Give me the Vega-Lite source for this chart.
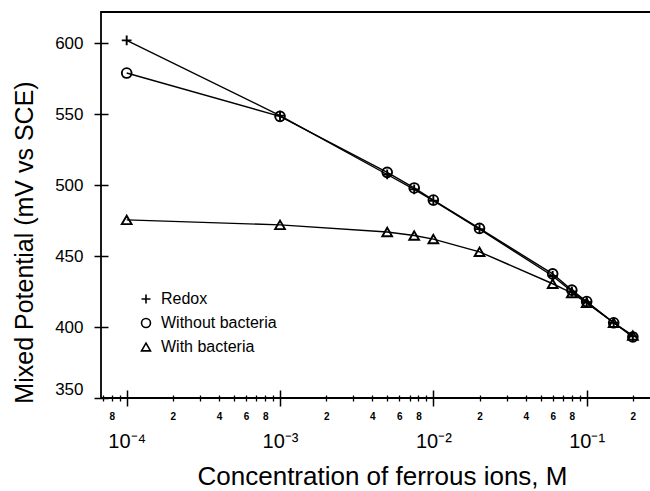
{
  "$schema": "https://vega.github.io/schema/vega-lite/v6.json",
  "width": 552,
  "height": 386,
  "autosize": {"type": "none"},
  "padding": {"left": 101, "top": 12, "right": -3, "bottom": 93},
  "config": {
    "font": "Liberation Sans",
    "view": {"stroke": "black", "strokeWidth": 1.8},
    "axis": {"grid": false, "domain": false, "tickColor": "black", "labelColor": "black", "titleColor": "black", "titleFontWeight": "normal", "labelFont": "Liberation Sans", "titleFont": "Liberation Sans"},
    "legend": {"labelFont": "Liberation Sans"}
  },
  "data": {
    "values": [
      {"conc": 0.0001, "potential": 602, "series": "Redox"},
      {"conc": 0.001, "potential": 549, "series": "Redox"},
      {"conc": 0.005, "potential": 507.5, "series": "Redox"},
      {"conc": 0.0075, "potential": 497, "series": "Redox"},
      {"conc": 0.01, "potential": 489, "series": "Redox"},
      {"conc": 0.02, "potential": 469, "series": "Redox"},
      {"conc": 0.06, "potential": 436, "series": "Redox"},
      {"conc": 0.08, "potential": 425, "series": "Redox"},
      {"conc": 0.1, "potential": 417.5, "series": "Redox"},
      {"conc": 0.15, "potential": 403, "series": "Redox"},
      {"conc": 0.2, "potential": 393.5, "series": "Redox"},
      {"conc": 0.0001, "potential": 579, "series": "Without bacteria"},
      {"conc": 0.001, "potential": 548.5, "series": "Without bacteria"},
      {"conc": 0.005, "potential": 509, "series": "Without bacteria"},
      {"conc": 0.0075, "potential": 498, "series": "Without bacteria"},
      {"conc": 0.01, "potential": 489.5, "series": "Without bacteria"},
      {"conc": 0.02, "potential": 469.5, "series": "Without bacteria"},
      {"conc": 0.06, "potential": 437.5, "series": "Without bacteria"},
      {"conc": 0.08, "potential": 426, "series": "Without bacteria"},
      {"conc": 0.1, "potential": 418, "series": "Without bacteria"},
      {"conc": 0.15, "potential": 403, "series": "Without bacteria"},
      {"conc": 0.2, "potential": 393, "series": "Without bacteria"},
      {"conc": 0.0001, "potential": 475.5, "series": "With bacteria"},
      {"conc": 0.001, "potential": 472, "series": "With bacteria"},
      {"conc": 0.005, "potential": 467, "series": "With bacteria"},
      {"conc": 0.0075, "potential": 464.5, "series": "With bacteria"},
      {"conc": 0.01, "potential": 462, "series": "With bacteria"},
      {"conc": 0.02, "potential": 453, "series": "With bacteria"},
      {"conc": 0.06, "potential": 430.5, "series": "With bacteria"},
      {"conc": 0.08, "potential": 424, "series": "With bacteria"},
      {"conc": 0.1, "potential": 417, "series": "With bacteria"},
      {"conc": 0.15, "potential": 403, "series": "With bacteria"},
      {"conc": 0.2, "potential": 394, "series": "With bacteria"}
    ]
  },
  "layer": [
    {
      "mark": {"type": "line", "color": "black", "strokeWidth": 1.4},
      "encoding": {
        "x": {
          "field": "conc", "type": "quantitative",
          "scale": {"type": "log", "domain": [0.000068, 0.2707], "nice": false},
          "axis": {
            "orient": "bottom", "values": [0.0001, 0.001, 0.01, 0.1],
            "offset": -8, "tickSize": 16, "tickWidth": 1.5, "domain": false,
            "labelExpr": "datum.value < 0.0005 ? '10⁻⁴' : datum.value < 0.005 ? '10⁻³' : datum.value < 0.05 ? '10⁻²' : '10⁻¹'",
            "labelFontSize": 20, "labelPadding": 25, "labelFlush": false, "labelOverlap": false, "labelBound": false,
            "title": "Concentration of ferrous ions, M", "titleFontSize": 26, "titlePadding": 12, "titleX": 281
          }
        },
        "y": {
          "field": "potential", "type": "quantitative",
          "scale": {"domain": [350, 622], "nice": false, "zero": false},
          "axis": {
            "values": [350, 400, 450, 500, 550, 600], "offset": -7, "tickSize": 14, "tickWidth": 1.5, "domain": false,
            "labelFontSize": 17, "labelPadding": 11, "labelFlush": true,
            "title": "Mixed Potential (mV vs SCE)", "titleFontSize": 25, "titlePadding": 17, "titleY": 230
          }
        },
        "detail": {"field": "series"}
      }
    },
    {
      "mark": {"type": "point", "filled": false, "color": "black", "strokeWidth": 1.9, "size": 95, "opacity": 1},
      "encoding": {
        "x": {
          "field": "conc", "type": "quantitative",
          "scale": {"type": "log", "domain": [0.000068, 0.2707], "nice": false},
          "axis": {
            "orient": "bottom",
            "values": [0.00007, 0.00008, 0.00009, 0.0002, 0.0003, 0.0004, 0.0005, 0.0006, 0.0007, 0.0008, 0.0009, 0.002, 0.003, 0.004, 0.005, 0.006, 0.007, 0.008, 0.009, 0.02, 0.03, 0.04, 0.05, 0.06, 0.07, 0.08, 0.09, 0.2],
            "offset": -3, "tickSize": 6, "tickWidth": 1.3, "domain": false,
            "labelExpr": "(round(datum.value / pow(10, floor(log(datum.value) / LN10 + 0.0001))) % 2 == 0) ? '' + round(datum.value / pow(10, floor(log(datum.value) / LN10 + 0.0001))) : ''",
            "labelFontSize": 10, "labelFontWeight": "bold", "labelPadding": 10, "labelFlush": false, "labelOverlap": false, "labelBound": false,
            "title": null
          }
        },
        "y": {
          "field": "potential", "type": "quantitative",
          "scale": {"domain": [350, 622], "nice": false, "zero": false},
          "axis": {
            "values": [350, 400, 450, 500, 550, 600], "offset": -7, "tickSize": 14, "tickWidth": 1.5, "domain": false,
            "labelFontSize": 17, "labelPadding": 11, "labelFlush": true,
            "title": "Mixed Potential (mV vs SCE)", "titleFontSize": 25, "titlePadding": 17, "titleY": 230
          }
        },
        "shape": {
          "field": "series", "type": "nominal",
          "scale": {"domain": ["Redox", "Without bacteria", "With bacteria"], "range": ["M-1,0H1M0,-1V1", "circle", "triangle-up"]},
          "legend": {
            "title": null, "orient": "none", "legendX": 37, "legendY": 279, "padding": 0,
            "labelFontSize": 16, "labelColor": "black", "labelOffset": 7, "rowPadding": 8,
            "symbolSize": 80, "symbolStrokeColor": "black", "symbolStrokeWidth": 1.6, "symbolFillColor": "transparent"
          }
        }
      }
    }
  ],
  "resolve": {"axis": {"x": "independent"}}
}
